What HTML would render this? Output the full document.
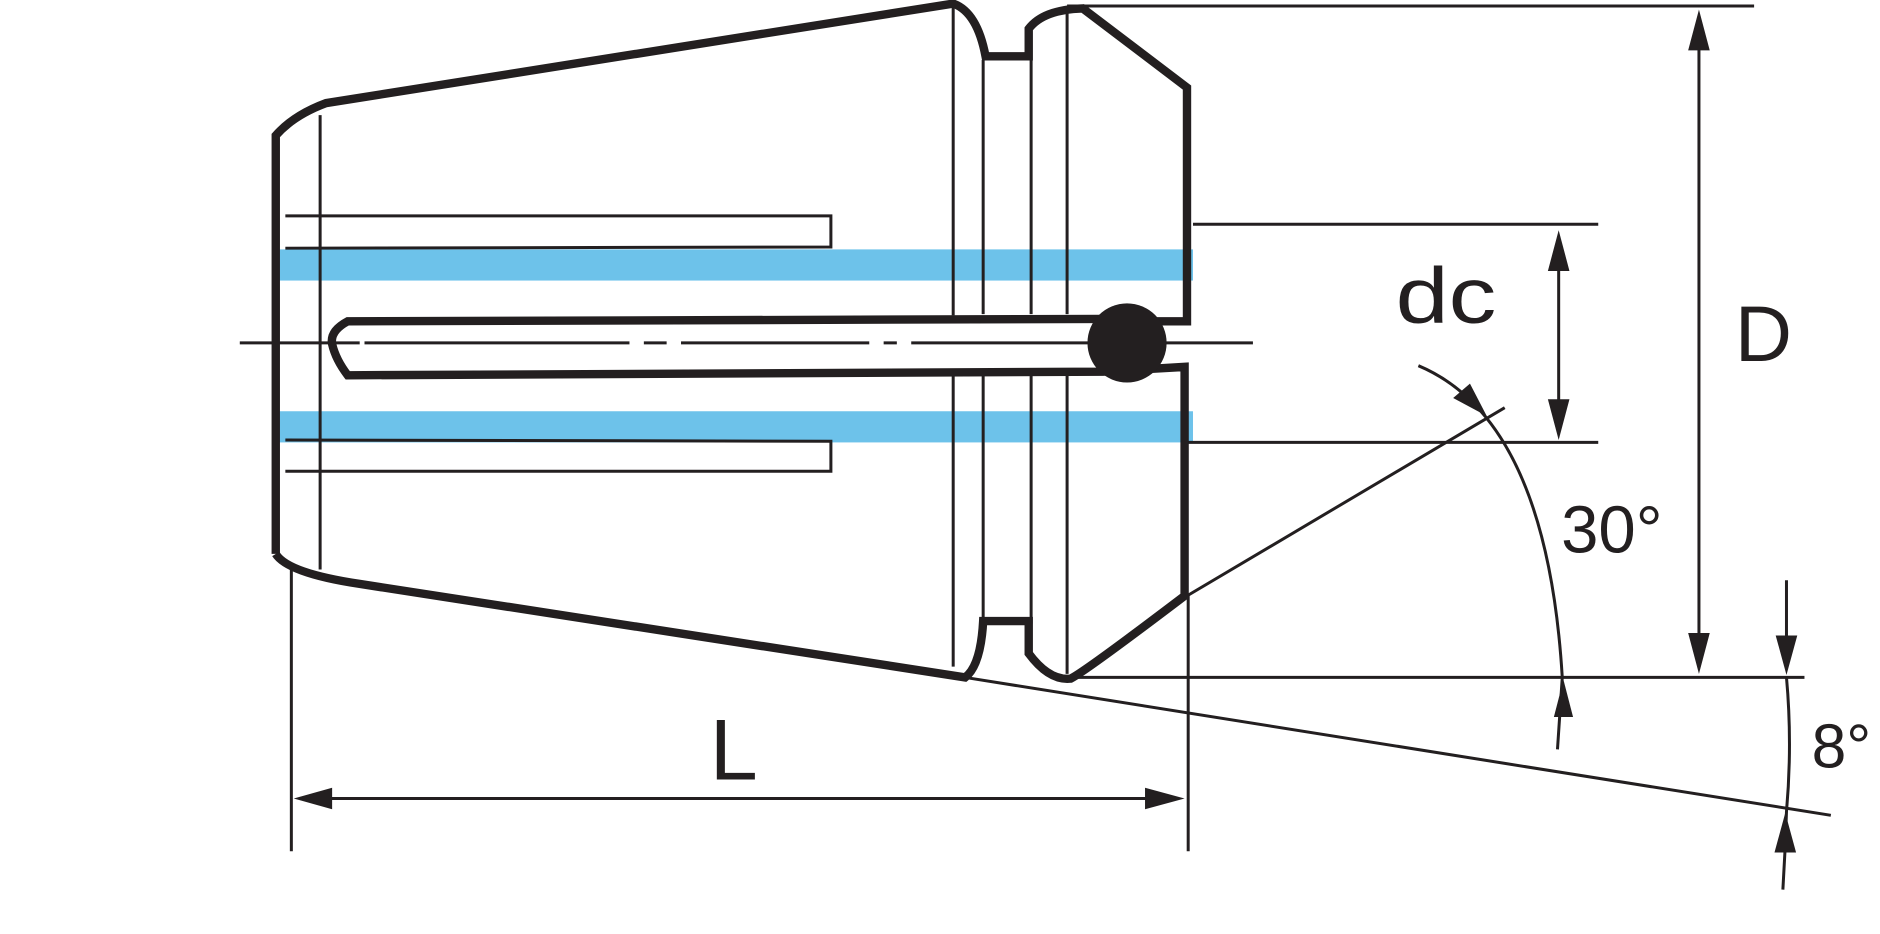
<!DOCTYPE html>
<html><head><style>html,body{margin:0;padding:0;background:#fff;}svg{display:block;}</style></head>
<body>
<svg width="1880" height="934" viewBox="0 0 1568 779" preserveAspectRatio="none" xmlns="http://www.w3.org/2000/svg">
<g fill="#6dc2ea">
<rect x="233" y="208" width="762" height="26"/>
<rect x="233" y="343" width="762" height="26"/>
</g>
<g stroke="#231f20" fill="none" stroke-width="2.5">
<line x1="267" y1="96" x2="267" y2="475"/>
<line x1="795" y1="3" x2="795" y2="263"/><line x1="795" y1="310" x2="795" y2="556"/>
<line x1="820" y1="50" x2="820" y2="262"/><line x1="820" y1="310" x2="820" y2="520"/>
<line x1="860" y1="50" x2="860" y2="262"/><line x1="860" y1="310" x2="860" y2="520"/>
<line x1="890" y1="8" x2="890" y2="262"/><line x1="890" y1="310" x2="890" y2="562"/>
<path d="M238,180 L693,180 L693,206 L238,207"/>
<path d="M238,367 L693,368 L693,393 L238,393"/>
<line x1="200" y1="286" x2="1045" y2="286"/>
<line x1="890" y1="5" x2="1463" y2="5"/>
<line x1="995" y1="187" x2="1333" y2="187"/>
<line x1="990" y1="369" x2="1333" y2="369"/>
<line x1="893" y1="565" x2="1505" y2="565"/>
<line x1="805" y1="565" x2="1527" y2="680"/>
<line x1="990" y1="497" x2="1255" y2="340"/>
<line x1="243" y1="475" x2="243" y2="710"/>
<line x1="991" y1="497" x2="991" y2="710"/>
<line x1="270" y1="666" x2="960" y2="666"/>
<line x1="1300" y1="220" x2="1300" y2="340"/>
<line x1="1417" y1="35" x2="1417" y2="532"/>
<line x1="1490" y1="484" x2="1490" y2="540"/>
<path d="M1183,305 Q1290,350 1303,565 L1299,625"/>
<path d="M1490,565 Q1495,620 1490,677 Q1489,710 1487,742"/>
</g>
<g stroke="#fff" stroke-width="4">
<line x1="300" y1="286" x2="304" y2="286"/>
<line x1="525" y1="286" x2="537" y2="286"/>
<line x1="556" y1="286" x2="568" y2="286"/>
<line x1="725" y1="286" x2="737" y2="286"/>
<line x1="748" y1="286" x2="760" y2="286"/>
</g>
<g stroke="#231f20" fill="none" stroke-width="7" stroke-linejoin="miter">
<path d="M230,462 L230,113 Q245,96 272,86 L795,3 Q815,10 822,47 L858,47 L858,24 Q870,8 903,7 L990,73 L990,268 L965,268"/>
<path d="M920,266 L290,268 Q275,276 277,287 Q280,300 290,313 L920,310 L988,306 L988,497 Q905,560 893,566 Q875,568 858,545 L858,518 L820,518 Q818,555 805,565 L300,487 Q240,478 230,462"/>
</g>
<circle cx="940" cy="286" r="33" fill="#231f20"/>
<g fill="#231f20">
<polygon points="1300,192 1291,226 1309,226"/>
<polygon points="1300,367 1291,333 1309,333"/>
<polygon points="1417,8 1408,42 1426,42"/>
<polygon points="1417,562 1408,528 1426,528"/>
<polygon points="1490,563 1481,530 1499,530"/>
<polygon points="1489,678 1480,711 1498,711"/>
<polygon points="1304,567 1296,598 1312,598"/>
<polygon points="245,666 277,657 277,675"/>
<polygon points="988,666 955,657 955,675"/>
<polygon points="1240,347 1212,332 1226,320"/>
</g>
<g fill="#231f20" font-family="'Liberation Sans',sans-serif">
<text x="1164" y="269" font-size="66" textLength="84" lengthAdjust="spacingAndGlyphs">dc</text>
<text x="1447" y="301" font-size="66">D</text>
<text x="592" y="650" font-size="72">L</text>
<text x="1302" y="461" font-size="56">30°</text>
<text x="1511" y="640" font-size="52">8°</text>
</g>
</svg>
</body></html>
